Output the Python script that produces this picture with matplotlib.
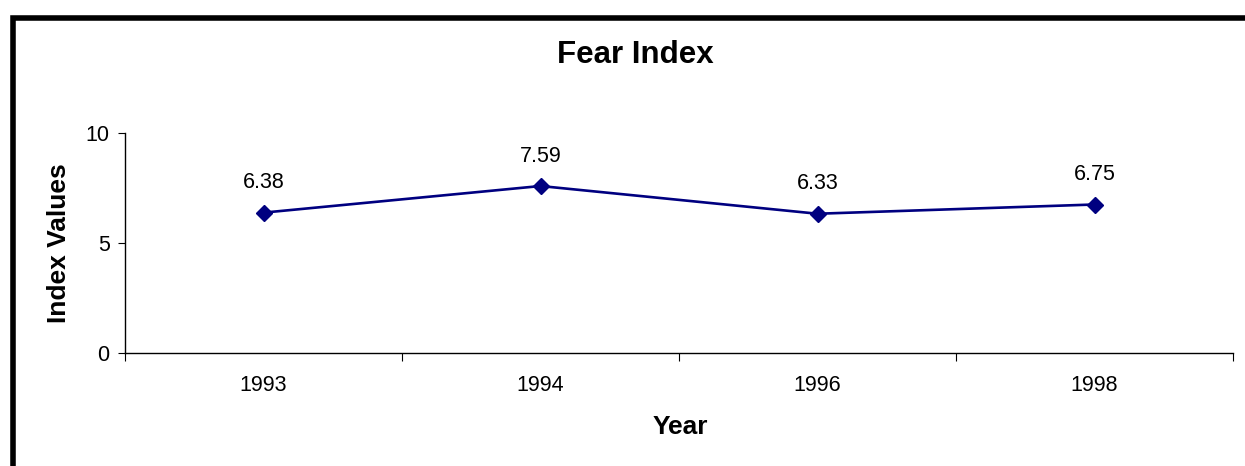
import matplotlib
matplotlib.use("Agg")
import matplotlib.pyplot as plt
from matplotlib.patches import Rectangle

years = ["1993", "1994", "1996", "1998"]
values = [6.38, 7.59, 6.33, 6.75]
yticks = [0, 5, 10]

plt.rcParams['font.family'] = ['Liberation Sans', 'DejaVu Sans']

fig = plt.figure(figsize=(12.45, 4.66), dpi=100)
W, H = 1245, 466
ax = fig.add_axes([125 / W, 1 - 353 / H, (1233 - 125) / W, (353 - 133) / H])

x = list(range(len(years)))
ax.plot(x, values, color='#000080', lw=1.9, marker='D', markersize=8.5,
        markerfacecolor='#000080', markeredgecolor='#000080', clip_on=False)
for xi, v in zip(x, values):
    ax.annotate(f"{v:.2f}", (xi, v), xytext=(0, 21.5), textcoords='offset points',
                ha='center', va='center', fontsize=15.5)

ax.set_xlim(-0.5, len(years) - 0.5)
ax.set_ylim(0, 10)
ax.set_yticks(yticks)
ax.set_yticklabels([str(t) for t in yticks], fontsize=15.5)
ax.set_xticks([i - 0.5 for i in range(len(years) + 1)], minor=False)
ax.set_xticklabels([])
ax.set_xticks(x, minor=True)
ax.set_xticklabels(years, minor=True, fontsize=15.5)
ax.tick_params(axis='x', which='minor', length=0, pad=16)
ax.tick_params(axis='x', which='major', length=6, direction='out', width=0.8)
ax.tick_params(axis='y', length=5, direction='out', width=0.8, pad=6)
ax.spines['top'].set_visible(False)
ax.spines['right'].set_visible(False)
for s in ['left', 'bottom']:
    ax.spines[s].set_linewidth(1.0)

fig.text(635 / W, 1 - 55 / H, "Fear Index", ha='center', va='center',
         fontsize=22.5, fontweight='bold')
fig.text(59 / W, 1 - 243 / H, "Index Values", ha='center', va='center',
         rotation=90, fontsize=19, fontweight='bold')
fig.text(680 / W, 1 - 427 / H, "Year", ha='center', va='center',
         fontsize=19, fontweight='bold')

fig.patches.append(Rectangle((12.5 / W, -0.1), 1.2, 1 - 18.5 / H + 0.1,
                             transform=fig.transFigure, fill=False,
                             edgecolor='black', linewidth=4, clip_on=False))

fig.savefig("out.png", dpi=100)
